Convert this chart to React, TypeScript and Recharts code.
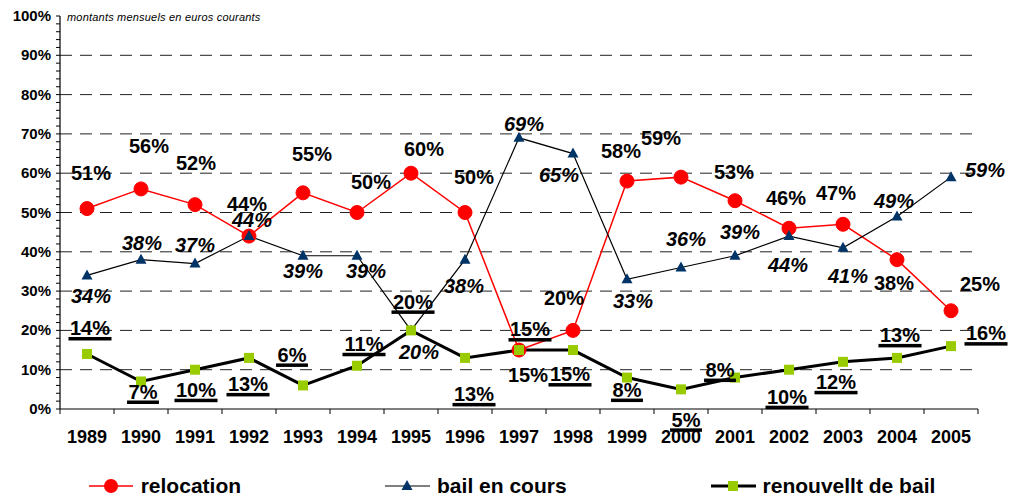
import React from 'react';
import { LineChart, Line, XAxis, YAxis, ReferenceLine, Legend, LabelList } from 'recharts';

const years = ['1989', '1990', '1991', '1992', '1993', '1994', '1995', '1996', '1997', '1998', '1999', '2000', '2001', '2002', '2003', '2004', '2005'];
const relocation = [51, 56, 52, 44, 55, 50, 60, 50, 15, 20, 58, 59, 53, 46, 47, 38, 25];
const bailEnCours = [34, 38, 37, 44, 39, 39, 20, 38, 69, 65, 33, 36, 39, 44, 41, 49, 59];
const renouvellement = [14, 7, 10, 13, 6, 11, 20, 13, 15, 15, 8, 5, 8, 10, 12, 13, 16];
const gridValues = [10, 20, 30, 40, 50, 60, 70, 80, 90];
const yTicks = Array.from({ length: 51 }, (_, i) => i * 2);

// label offsets (dx, dy) from the point to the label centre
const relocOffsets = [[4, -36], [8, -43], [1, -42], [-2, -32], [9, -39], [14, -31], [13, -24], [9, -36], [9, 25], [-9, -33], [-6, -30], [-20, -39], [-1, -29], [-3, -30], [-7, -31], [-3, 23], [29, -27]];
const bailOffsets = [[4, 20], [1, -17], [0, -19], [3, -16], [0, 15], [9, 15], [8, 21], [-1, 26], [5, -14], [-14, 21], [6, 21], [5, -29], [5, -24], [-1, 29], [5, 28], [-3, -16], [34, -7]];
const renouOffsets = [[3, -26], [2, 10], [1, 20], [-1, 26], [-11, -31], [7, -22], [2, -29], [9, 36], [11, -21], [-3, 24], [0, 12], [5, 30], [-15, -8], [-2, 27], [-7, 20], [3, -23], [35, -13]];

const data = years.map((y, i) => ({
  year: y,
  relocation: relocation[i],
  bail: bailEnCours[i],
  renou: renouvellement[i],
}));

const W = 1024;
const H = 497;
const M = { top: 16, right: 46, left: 0, bottom: 48 };
const Y_W = 60;
const HALF = (W - M.left - M.right - Y_W) / years.length / 2;
const FONT = '"Liberation Sans", Arial, sans-serif';
const LBL = 20;

const pt = (p: any) => {
  const x = p.x ?? p.viewBox?.x;
  const y = p.y ?? p.viewBox?.y;
  return { x, y };
};

const makeLabel = (offsets: number[][], italic: boolean, underline: boolean) => (p: any) => {
  const { x, y } = pt(p);
  const i = p.index;
  if (x == null || i == null) return null;
  const [dx, dy] = offsets[i];
  const cx = x + dx;
  const cy = y + dy;
  const txt = `${p.value}%`;
  const w = (txt.length - 1) * 0.556 * LBL + 0.889 * LBL + 3;
  return (
    <g>
      <text x={cx} y={cy + LBL * 0.36} textAnchor="middle" fontFamily={FONT} fontWeight="bold"
        fontStyle={italic ? 'italic' : 'normal'} fontSize={LBL} fill="#000">{txt}</text>
      {underline && <rect x={cx - w / 2} y={cy + 9} width={w} height={3.5} fill="#000" />}
    </g>
  );
};

const Triangle = (p: any) => {
  const { cx, cy } = p;
  if (cx == null) return <g />;
  return <path d={`M${cx},${cy - 6} L${cx + 5.5},${cy + 4} L${cx - 5.5},${cy + 4} Z`} fill="#003366" />;
};

const Square = (p: any) => {
  const { cx, cy } = p;
  if (cx == null) return <g />;
  return <rect x={cx - 5} y={cy - 5} width={10} height={10} fill="#99CC00" />;
};

const YTick = (p: any) => {
  const { x, y, payload } = p;
  if (payload.value % 10 !== 0) return <g />;
  return (
    <text x={x} y={y + 5} textAnchor="end" fontFamily={FONT} fontWeight="bold" fontSize={15} fill="#000">
      {payload.value}%
    </text>
  );
};

const XTick = (p: any) => {
  const { x, y, payload, index } = p;
  return (
    <g>
      <line x1={x - HALF} y1={y} x2={x - HALF} y2={y + 5} stroke="#000" />
      {index === years.length - 1 && <line x1={x + HALF} y1={y} x2={x + HALF} y2={y + 5} stroke="#000" />}
      <text x={x} y={y + 34} textAnchor="middle" fontFamily={FONT} fontWeight="bold" fontSize={18} fill="#000">
        {payload.value}
      </text>
    </g>
  );
};

const legendItems = [
  { name: 'relocation', kind: 'circle' },
  { name: 'bail en cours', kind: 'triangle' },
  { name: 'renouvellt de bail', kind: 'square' },
];

const LegendContent = () => (
  <div style={{ display: 'flex', justifyContent: 'center', alignItems: 'center', gap: 144, fontFamily: FONT, fontWeight: 'bold', fontSize: 21, color: '#000', height: 28 }}>
    {legendItems.map((it) => (
      <div key={it.name} style={{ display: 'flex', alignItems: 'center' }}>
        <svg width={46} height={20}>
          {it.kind === 'circle' && <>
            <line x1={0} y1={10} x2={44} y2={10} stroke="#FF0000" strokeWidth={1.5} />
            <circle cx={22} cy={10} r={7} fill="#FF0000" />
          </>}
          {it.kind === 'triangle' && <>
            <line x1={0} y1={10} x2={45} y2={10} stroke="#000" strokeWidth={1.2} />
            <path d="M22,4 L27.5,14 L16.5,14 Z" fill="#003366" />
          </>}
          {it.kind === 'square' && <>
            <line x1={0} y1={10} x2={45} y2={10} stroke="#000" strokeWidth={3} />
            <rect x={17} y={5} width={10} height={10} fill="#99CC00" />
          </>}
        </svg>
        <span style={{ marginLeft: 6 }}>{it.name}</span>
      </div>
    ))}
  </div>
);

export default function App() {
  return (
    <div style={{ position: 'absolute', left: 0, top: 0, width: W, height: H, background: '#fff' }}>
      <LineChart width={W} height={H} data={data} margin={M}>
        <XAxis dataKey="year" height={40} tickLine={false} tickSize={0} tickMargin={0}
          padding={{ left: HALF, right: HALF }}
          axisLine={{ stroke: '#000', strokeWidth: 1.2 }} tick={<XTick />} interval={0} />
        <YAxis width={Y_W} domain={[0, 100]} ticks={yTicks} interval={0} tickSize={4} tickMargin={5}
          tickLine={{ stroke: '#000' }} axisLine={{ stroke: '#000', strokeWidth: 1.2 }} tick={<YTick />} />
        {gridValues.map((v) => (
          <ReferenceLine key={v} y={v} stroke="#222" strokeDasharray="12 8" strokeWidth={1} />
        ))}
        <Legend layout="horizontal" verticalAlign="middle" align="center"
          wrapperStyle={{ top: 472, left: 0, width: W }} content={<LegendContent />} />
        <Line dataKey="relocation" name="relocation" stroke="#FF0000" strokeWidth={1.5}
          dot={{ r: 7, fill: '#FF0000', stroke: '#FF0000', strokeWidth: 1 }} isAnimationActive={false}>
          <LabelList dataKey="relocation" content={makeLabel(relocOffsets, false, false)} />
        </Line>
        <Line dataKey="bail" name="bail en cours" stroke="#000" strokeWidth={1.2}
          dot={<Triangle />} isAnimationActive={false}>
          <LabelList dataKey="bail" content={makeLabel(bailOffsets, true, false)} />
        </Line>
        <Line dataKey="renou" name="renouvellt de bail" stroke="#000" strokeWidth={3}
          dot={<Square />} isAnimationActive={false}>
          <LabelList dataKey="renou" content={makeLabel(renouOffsets, false, true)} />
        </Line>
      </LineChart>
      <div style={{ position: 'absolute', left: 67, top: 11, fontFamily: FONT, fontStyle: 'italic', fontSize: 11, color: '#000', letterSpacing: 0.2 }}>
        montants mensuels en euros courants
      </div>
    </div>
  );
}
